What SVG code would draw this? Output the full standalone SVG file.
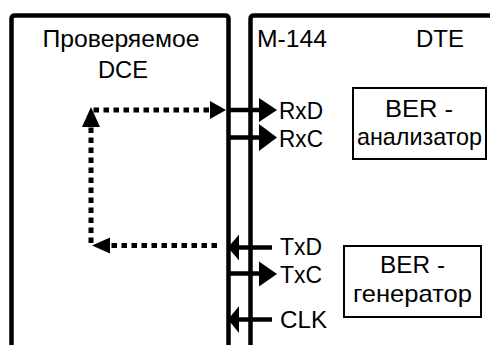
<svg xmlns="http://www.w3.org/2000/svg" width="490" height="345" viewBox="0 0 490 345">
<style>
.frame{fill:none;stroke:#000;stroke-width:4.5;stroke-linejoin:round}
.box{fill:#fff;stroke:#000;stroke-width:2}
.t{font-family:"Liberation Sans",Arial,sans-serif;font-size:24px;fill:#000}
.m{text-anchor:middle}
.w{stroke:#000;stroke-width:4.5;fill:none}
.d{stroke:#000;stroke-width:5;fill:none;stroke-dasharray:5.5 4.5}
.h{fill:#000;stroke:none}
</style>
<rect width="490" height="345" fill="#fff"/>
<g id="dce">
<path class="frame" d="M11.5,350 V19 Q11.5,15.5 15,15.5 H225 Q228.5,15.5 228.5,19 V350"/>
<text class="t m" x="121" y="47" textLength="157" lengthAdjust="spacingAndGlyphs">Проверяемое</text>
<text class="t m" x="123" y="78" textLength="50" lengthAdjust="spacingAndGlyphs">DCE</text>
</g>
<g id="m144">
<path class="frame" d="M250.5,350 V19 Q250.5,15.5 254,15.5 H495"/>
<text class="t" x="257" y="47" textLength="70" lengthAdjust="spacingAndGlyphs">M-144</text>
<text class="t" x="416" y="47" textLength="48" lengthAdjust="spacingAndGlyphs">DTE</text>
<text class="t" x="279" y="119" textLength="44" lengthAdjust="spacingAndGlyphs">RxD</text>
<text class="t" x="279" y="147" textLength="44" lengthAdjust="spacingAndGlyphs">RxC</text>
<text class="t" x="280" y="255" textLength="42" lengthAdjust="spacingAndGlyphs">TxD</text>
<text class="t" x="280" y="283" textLength="42" lengthAdjust="spacingAndGlyphs">TxC</text>
<text class="t" x="280" y="328" textLength="47" lengthAdjust="spacingAndGlyphs">CLK</text>
</g>
<g id="analyzer">
<rect class="box" x="353" y="88" width="133" height="71"/>
<text class="t m" x="419" y="117" textLength="68" lengthAdjust="spacingAndGlyphs">BER -</text>
<text class="t m" x="419.5" y="145" textLength="125" lengthAdjust="spacingAndGlyphs">анализатор</text>
</g>
<g id="generator">
<rect class="box" x="344" y="246" width="137" height="71"/>
<text class="t m" x="412.5" y="273" textLength="65" lengthAdjust="spacingAndGlyphs">BER -</text>
<text class="t m" x="412.5" y="302" textLength="119" lengthAdjust="spacingAndGlyphs">генератор</text>
</g>
<g id="connectors">
<path class="w" d="M228.5,110 H261"/>
<polygon class="h" points="259,98 277,110 259,122"/>
<path class="w" d="M228.5,137.5 H261"/>
<polygon class="h" points="259,124 277,137.5 259,151"/>
<path class="w" d="M236,247.5 H272"/>
<polygon class="h" points="228,247.5 239,234.5 239,260.5"/>
<path class="w" d="M228.5,273.5 H261"/>
<polygon class="h" points="259,261.5 277,274 259,286.5"/>
<path class="w" d="M236,319.5 H272"/>
<polygon class="h" points="228,319.5 239,306 239,333"/>
<path class="d" d="M217,245.5 H108"/>
<path class="d" d="M91,243 V125"/>
<path class="d" d="M93.5,110 H211"/>
<polygon class="h" points="92,245.5 110,237.5 110,253.5"/>
<polygon class="h" points="91,107 100,127 82,127"/>
<polygon class="h" points="226,110 210,101 210,119"/>
</g>
</svg>
